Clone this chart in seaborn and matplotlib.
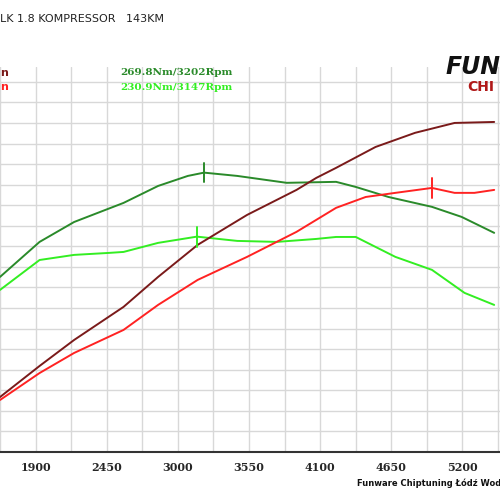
import matplotlib
matplotlib.use("Agg")
import matplotlib.pyplot as plt
import seaborn as sns
import numpy as np
import pandas as pd

sns.set_style("white")
plt.rcParams['font.family'] = ['DejaVu Sans']

tq_tuned_rpm = [1625, 1931, 2198, 2580, 2847, 3077, 3202, 3459, 3841, 4223, 4375, 4628, 4964, 5193, 5445]
tq_tuned = [206.4, 227.7, 239.8, 251.4, 261.7, 267.8, 269.8, 267.8, 263.6, 264.2, 261.1, 255.0, 249.0, 242.9, 233.2]
tq_stock_rpm = [1625, 1931, 2198, 2465, 2580, 2847, 3147, 3459, 3764, 4070, 4223, 4375, 4681, 4964, 5216, 5445]
tq_stock = [198.5, 216.7, 219.8, 221.0, 221.6, 227.1, 230.9, 228.3, 227.7, 229.5, 230.7, 230.7, 218.6, 210.7, 196.7, 189.4]
pw_tuned_rpm = [1625, 1931, 2198, 2580, 2847, 3153, 3535, 3917, 4070, 4223, 4528, 4834, 5139, 5445]
pw_tuned = [133.4, 152.3, 168.1, 188.2, 206.4, 225.9, 244.1, 259.3, 266.6, 272.7, 285.4, 294.0, 300.0, 300.6]
pw_stock_rpm = [1625, 1931, 2198, 2580, 2847, 3153, 3535, 3917, 4223, 4452, 4681, 4964, 5139, 5292, 5445]
pw_stock = [131.6, 148.0, 160.2, 174.2, 189.4, 204.6, 218.6, 233.8, 248.4, 255.0, 257.5, 260.5, 257.5, 257.5, 259.3]
x_ticks = [1900, 2450, 3000, 3550, 4100, 4650, 5200]

fig = plt.figure(figsize=(5, 5), dpi=100)
ax = fig.add_axes([0, 0.096, 1, 0.77])
ax.set_xlim(1625, 5445 + 45 * 7.64 / 7.64 * 0 + 45)
ax.set_ylim(100, 334)

for r in np.arange(1625 + 0, 5600, 275):
    pass
grid_x = [1900 + 275 * k for k in range(-1, 14)]
for gx in grid_x:
    ax.axvline(gx, color="#d8d8d8", lw=1, zorder=0)
for gy in np.arange(112.5, 334, 12.5):
    ax.axhline(gy, color="#d8d8d8", lw=1, zorder=0)

sns.lineplot(x=tq_tuned_rpm, y=tq_tuned, ax=ax, color="#2a8a2a", lw=1.4)
sns.lineplot(x=tq_stock_rpm, y=tq_stock, ax=ax, color="#33ee22", lw=1.4)
sns.lineplot(x=pw_tuned_rpm, y=pw_tuned, ax=ax, color="#7a1a1a", lw=1.4)
sns.lineplot(x=pw_stock_rpm, y=pw_stock, ax=ax, color="#ff2222", lw=1.4)

ax.plot([3202, 3202], [263.8, 275.8], color="#2a8a2a", lw=1.4)
ax.plot([3147, 3147], [224.9, 236.9], color="#33ee22", lw=1.4)
ax.plot([4964, 4964], [155.5 + 99.0, 155.5 + 111.0], color="#ff2222", lw=1.4)

for s in ["left", "right", "top"]:
    ax.spines[s].set_visible(False)
ax.spines["bottom"].set_color("#333333")
ax.spines["bottom"].set_linewidth(1.5)
ax.set_yticks([])
ax.set_xticks([1900 + 275 * k for k in range(-1, 14)], minor=False)
ax.set_xticklabels(["" if k % 2 else str(1900 + 275 * k) for k in range(-1, 14)] if False else
                   [str(1900 + 275 * k) if k % 2 == 0 else "" for k in range(-1, 14)],
                   fontsize=8, fontweight="bold", family="DejaVu Serif")
ax.tick_params(axis="x", direction="out", length=4, width=1, color="#333333", pad=3)

fig.text(0.0, 0.963, "LK 1.8 KOMPRESSOR   143KM", fontsize=8, color="#222222", va="center")
fig.text(0.0, 0.855, "n", fontsize=8, color="#7a1a1a", va="center", fontweight="bold")
fig.text(0.0, 0.826, "n", fontsize=8, color="#ff2222", va="center", fontweight="bold")
fig.text(0.24, 0.855, "269.8Nm/3202Rpm", fontsize=7.5, color="#2a8a2a", va="center", fontweight="bold", family="DejaVu Serif")
fig.text(0.24, 0.826, "230.9Nm/3147Rpm", fontsize=7.5, color="#33ee22", va="center", fontweight="bold", family="DejaVu Serif")
fig.text(0.714, 0.034, "Funware Chiptuning Łódź Wodorowa", fontsize=6, color="#111111", va="center", fontweight="bold")
fig.text(0.89, 0.866, "FUN", fontsize=17, color="#111111", va="center", fontweight="bold", style="italic")
fig.text(0.935, 0.826, "CHI", fontsize=10, color="#b01818", va="center", fontweight="bold")

fig.savefig("out.png", dpi=100)
